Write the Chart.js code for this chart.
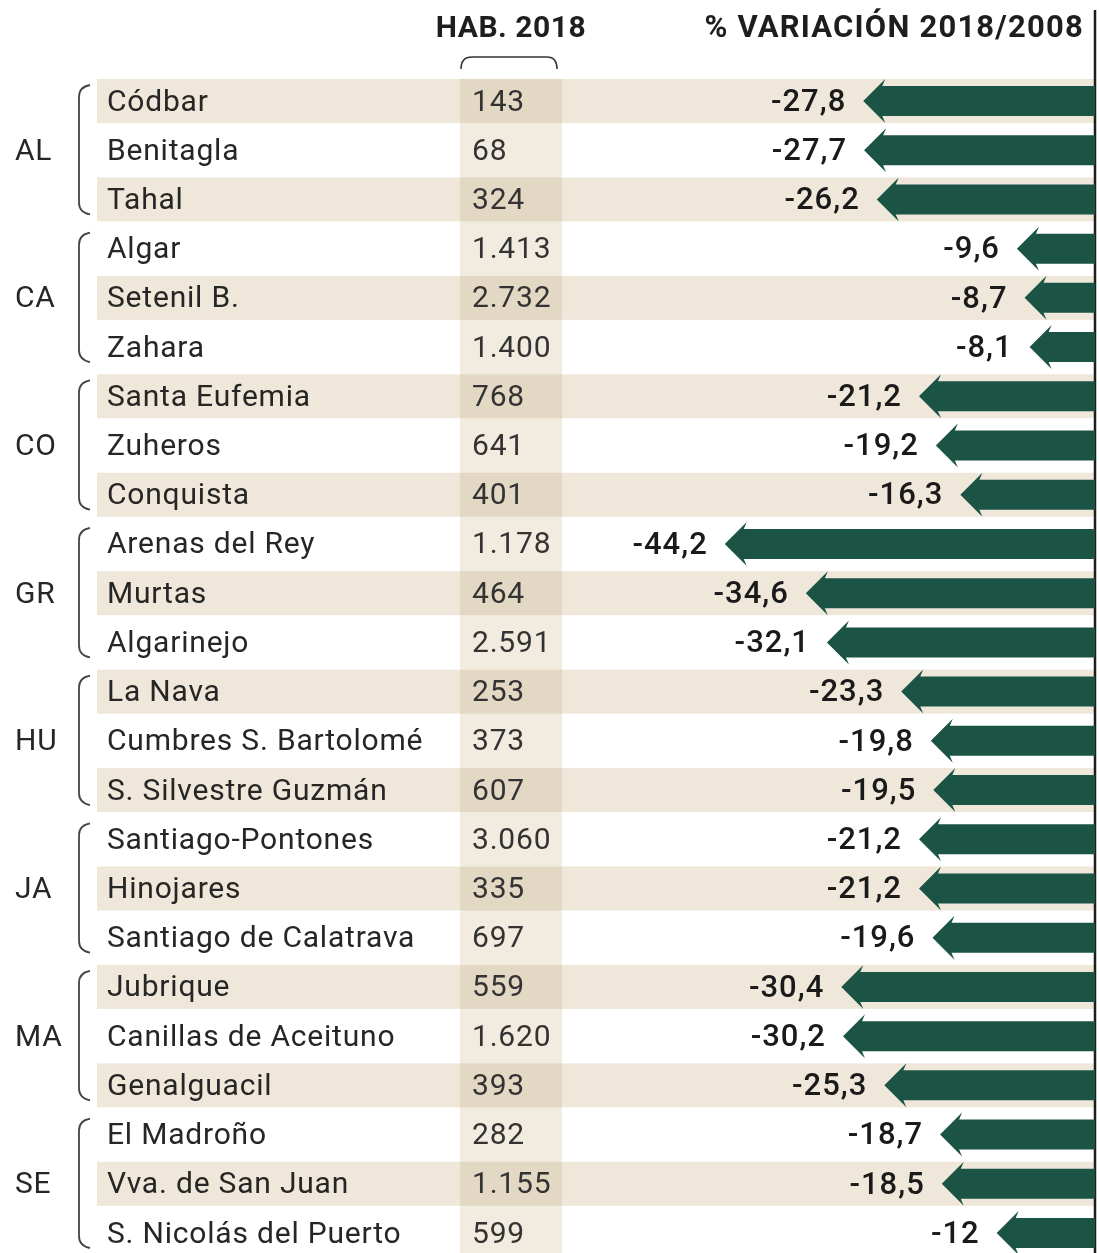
<!DOCTYPE html>
<html>
<head>
<meta charset="utf-8">
<script src="https://cdn.jsdelivr.net/npm/chart.js@4/dist/chart.umd.min.js"></script>
<style>
    html, body { margin: 0; padding: 0; background: #fff; }
    #chartVariacion { display: block; }
</style>
</head>
<body>
<canvas id="chartVariacion" width="1099" height="1253"></canvas>
<script>
const PROVINCIAS = ['AL', 'CA', 'CO', 'GR', 'HU', 'JA', 'MA', 'SE'];

const MUNICIPIOS = [
    'Códbar', 'Benitagla', 'Tahal',
    'Algar', 'Setenil B.', 'Zahara',
    'Santa Eufemia', 'Zuheros', 'Conquista',
    'Arenas del Rey', 'Murtas', 'Algarinejo',
    'La Nava', 'Cumbres S. Bartolomé', 'S. Silvestre Guzmán',
    'Santiago-Pontones', 'Hinojares', 'Santiago de Calatrava',
    'Jubrique', 'Canillas de Aceituno', 'Genalguacil',
    'El Madroño', 'Vva. de San Juan', 'S. Nicolás del Puerto'
];

const HABITANTES_2018 = [
    143, 68, 324,
    1413, 2732, 1400,
    768, 641, 401,
    1178, 464, 2591,
    253, 373, 607,
    3060, 335, 697,
    559, 1620, 393,
    282, 1155, 599
];

const VARIACION = [
    -27.8, -27.7, -26.2,
    -9.6, -8.7, -8.1,
    -21.2, -19.2, -16.3,
    -44.2, -34.6, -32.1,
    -23.3, -19.8, -19.5,
    -21.2, -21.2, -19.6,
    -30.4, -30.2, -25.3,
    -18.7, -18.5, -12
];

const FILAS_POR_PROVINCIA = 3;

const COLOR_FLECHA = '#1b5444';
const COLOR_BANDA = '#eee7da';
const COLOR_COLUMNA = '#f2ebe0';
const COLOR_COLUMNA_BANDA = '#e3d8c3';
const COLOR_TEXTO = '#262626';
const FUENTE = 'Roboto, "DejaVu Sans", sans-serif';

const formatoHab = (n) => String(n).replace(/\B(?=(\d{3})+(?!\d))/g, '.');
const formatoVar = (v) => Number.isInteger(v) ? String(v) : v.toFixed(1).replace('.', ',');

// fondo de tabla, cabeceras, llaves y nombres
const tablaPlugin = {
    id: 'tabla',
    beforeDatasetsDraw(chart) {
        const { ctx } = chart;
        const yScale = chart.scales.y;
        const lineaX = 1095;

        ctx.save();
        ctx.fillStyle = '#fff';
        ctx.fillRect(0, 0, chart.width, chart.height);

        // bandas alternas
        MUNICIPIOS.forEach((m, i) => {
            if (i % 2 !== 0) return;
            const y = yScale.getPixelForValue(i);
            ctx.fillStyle = COLOR_BANDA;
            ctx.fillRect(97, y - 22, lineaX - 97, 44);
        });

        // columna de habitantes
        const y0 = yScale.getPixelForValue(0) - 22;
        ctx.fillStyle = COLOR_COLUMNA;
        ctx.fillRect(460, y0, 102, chart.height - y0);
        MUNICIPIOS.forEach((m, i) => {
            if (i % 2 !== 0) return;
            const y = yScale.getPixelForValue(i);
            ctx.fillStyle = COLOR_COLUMNA_BANDA;
            ctx.fillRect(460, y - 22, 102, 44);
        });

        // cabeceras
        ctx.fillStyle = '#1e1e1e';
        ctx.textBaseline = 'alphabetic';
        ctx.font = `700 30px ${FUENTE}`;
        ctx.letterSpacing = '0.5px';
        ctx.textAlign = 'center';
        ctx.fillText('HAB. 2018', 511, 37);
        ctx.textAlign = 'right';
        ctx.font = `700 31px ${FUENTE}`;
        ctx.letterSpacing = '1.2px';
        ctx.fillText('% VARIACIÓN 2018/2008', 1084, 37);
        ctx.letterSpacing = '0px';

        // llave bajo HAB. 2018
        ctx.strokeStyle = '#333';
        ctx.lineWidth = 1.6;
        ctx.beginPath();
        ctx.moveTo(461, 69);
        ctx.quadraticCurveTo(461, 57, 472, 57);
        ctx.lineTo(547, 57);
        ctx.quadraticCurveTo(557, 57, 557, 69);
        ctx.stroke();

        // línea vertical
        ctx.strokeStyle = '#1e1e1e';
        ctx.lineWidth = 2.5;
        ctx.beginPath();
        ctx.moveTo(lineaX, 10);
        ctx.lineTo(lineaX, chart.height);
        ctx.stroke();

        // provincias y llaves
        PROVINCIAS.forEach((p, g) => {
            const iIni = g * FILAS_POR_PROVINCIA;
            const iFin = iIni + FILAS_POR_PROVINCIA - 1;
            const yIni = yScale.getPixelForValue(iIni) - 16;
            const yFin = yScale.getPixelForValue(iFin) + 15;
            const yMed = yScale.getPixelForValue(iIni + 1);

            ctx.strokeStyle = '#444';
            ctx.lineWidth = 1.8;
            ctx.beginPath();
            ctx.moveTo(90, yIni);
            ctx.quadraticCurveTo(79, yIni + 2, 79, yIni + 12);
            ctx.lineTo(79, yFin - 12);
            ctx.quadraticCurveTo(79, yFin - 2, 90, yFin);
            ctx.stroke();

            ctx.fillStyle = COLOR_TEXTO;
            ctx.font = `400 30px ${FUENTE}`;
            ctx.letterSpacing = '0.8px';
            ctx.textAlign = 'left';
            ctx.textBaseline = 'middle';
            ctx.fillText(p, 15, yMed + 2);
        });

        // municipios y habitantes
        ctx.font = `400 30px ${FUENTE}`;
        ctx.letterSpacing = '0.8px';
        ctx.textAlign = 'left';
        ctx.textBaseline = 'middle';
        MUNICIPIOS.forEach((m, i) => {
            const y = yScale.getPixelForValue(i) + 2;
            ctx.fillStyle = COLOR_TEXTO;
            ctx.fillText(m, 107, y);
            ctx.fillStyle = '#333';
            ctx.fillText(formatoHab(HABITANTES_2018[i]), 472, y);
        });
        ctx.letterSpacing = '0px';
        ctx.restore();
    }
};

// flechas y etiquetas de valor a partir de las barras
const flechasPlugin = {
    id: 'flechas',
    afterDatasetsDraw(chart) {
        const { ctx } = chart;
        const meta = chart.getDatasetMeta(0);
        const baseX = 1095;

        ctx.save();
        meta.data.forEach((barra, i) => {
            const { x, y } = barra.getProps(['x', 'y'], true);
            const largoPunta = 19;

            ctx.fillStyle = COLOR_FLECHA;
            ctx.beginPath();
            ctx.moveTo(x, y);
            ctx.lineTo(x + largoPunta + 3, y - 22);
            ctx.lineTo(x + largoPunta, y - 15);
            ctx.lineTo(baseX, y - 15);
            ctx.lineTo(baseX, y + 15);
            ctx.lineTo(x + largoPunta, y + 15);
            ctx.lineTo(x + largoPunta + 3, y + 22);
            ctx.closePath();
            ctx.fill();

            ctx.fillStyle = '#1a1a1a';
            ctx.font = `500 31px ${FUENTE}`;
            ctx.letterSpacing = '1px';
            ctx.textAlign = 'right';
            ctx.textBaseline = 'middle';
            ctx.fillText(formatoVar(VARIACION[i]), x - 17, y + 2);
        });
        ctx.restore();
    }
};

const ctx = document.getElementById('chartVariacion');

new Chart(ctx, {
    type: 'bar',
    data: {
        labels: MUNICIPIOS,
        datasets: [{
            data: VARIACION,
            backgroundColor: 'rgba(0,0,0,0)',
            borderWidth: 0
        }]
    },
    options: {
        indexAxis: 'y',
        responsive: false,
        animation: false,
        devicePixelRatio: 1,
        layout: {
            padding: { left: 718, right: 1, top: 101, bottom: 20 }
        },
        scales: {
            x: { type: 'linear', min: -45, max: 0, display: false },
            y: { type: 'category', offset: false, display: false }
        },
        plugins: {
            legend: { display: false },
            tooltip: { enabled: false }
        }
    },
    plugins: [tablaPlugin, flechasPlugin]
});
</script>
</body>
</html>
